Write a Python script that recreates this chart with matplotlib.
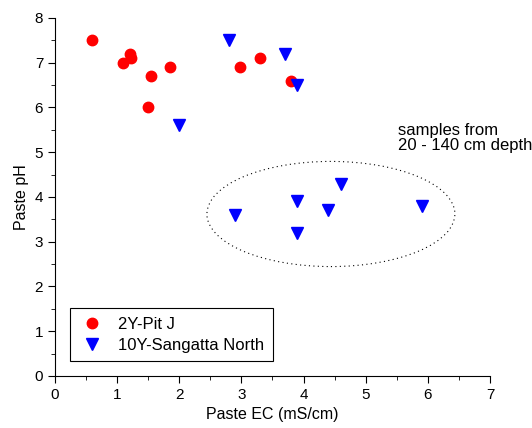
import matplotlib
matplotlib.use('Agg')
import matplotlib.pyplot as plt
from matplotlib.patches import Ellipse
from matplotlib.ticker import MultipleLocator

plt.rcParams['font.family'] = ['Liberation Sans', 'DejaVu Sans']

# 2Y-Pit J
pit_ec = [0.6, 1.1, 1.2, 1.22, 1.5, 1.55, 1.85, 2.98, 3.3, 3.8]
pit_ph = [7.5, 7.0, 7.2, 7.1, 6.0, 6.7, 6.9, 6.9, 7.1, 6.6]

# 10Y-Sangatta North
san_ec = [2.8, 3.7, 3.9, 2.0, 2.9, 3.9, 3.9, 4.4, 4.6, 5.9]
san_ph = [7.5, 7.2, 6.5, 5.6, 3.6, 3.9, 3.2, 3.7, 4.3, 3.8]

fig = plt.figure(figsize=(5.32, 4.28), dpi=100)
ax = fig.add_axes([0.1034, 0.1215, 0.8176, 0.8365])

ax.plot(pit_ec, pit_ph, 'o', color='red', markersize=7.5, label='2Y-Pit J')
ax.plot(san_ec, san_ph, 'v', color='blue', markersize=9, label='10Y-Sangatta North')

ell = Ellipse((4.44, 3.62), 3.99, 2.35, fill=False, linestyle=(0, (1, 3)),
              edgecolor='black', linewidth=0.8)
ax.add_patch(ell)
ax.text(5.52, 5.66, 'samples from\n20 - 140 cm depth', fontsize=12,
        va='top', ha='left', linespacing=1.05)

ax.set_xlim(0, 7)
ax.set_ylim(0, 8)
ax.xaxis.set_major_locator(MultipleLocator(1))
ax.xaxis.set_minor_locator(MultipleLocator(0.5))
ax.yaxis.set_major_locator(MultipleLocator(1))
ax.yaxis.set_minor_locator(MultipleLocator(0.5))
ax.tick_params(which='major', direction='out', length=5, labelsize=11)
ax.tick_params(which='minor', direction='out', length=3)
ax.spines['top'].set_visible(False)
ax.spines['right'].set_visible(False)

ax.set_xlabel('Paste EC (mS/cm)', fontsize=11.5)
ax.set_ylabel('Paste pH', fontsize=11.5)

leg = ax.legend(loc='lower left', bbox_to_anchor=(0.0345, 0.042), fontsize=12,
                frameon=True, fancybox=False, edgecolor='black', framealpha=1,
                borderaxespad=0, handlelength=1.6, handletextpad=0.8,
                borderpad=0.5, labelspacing=0.35)
leg.get_frame().set_linewidth(0.8)

fig.savefig('out.png', dpi=100)
